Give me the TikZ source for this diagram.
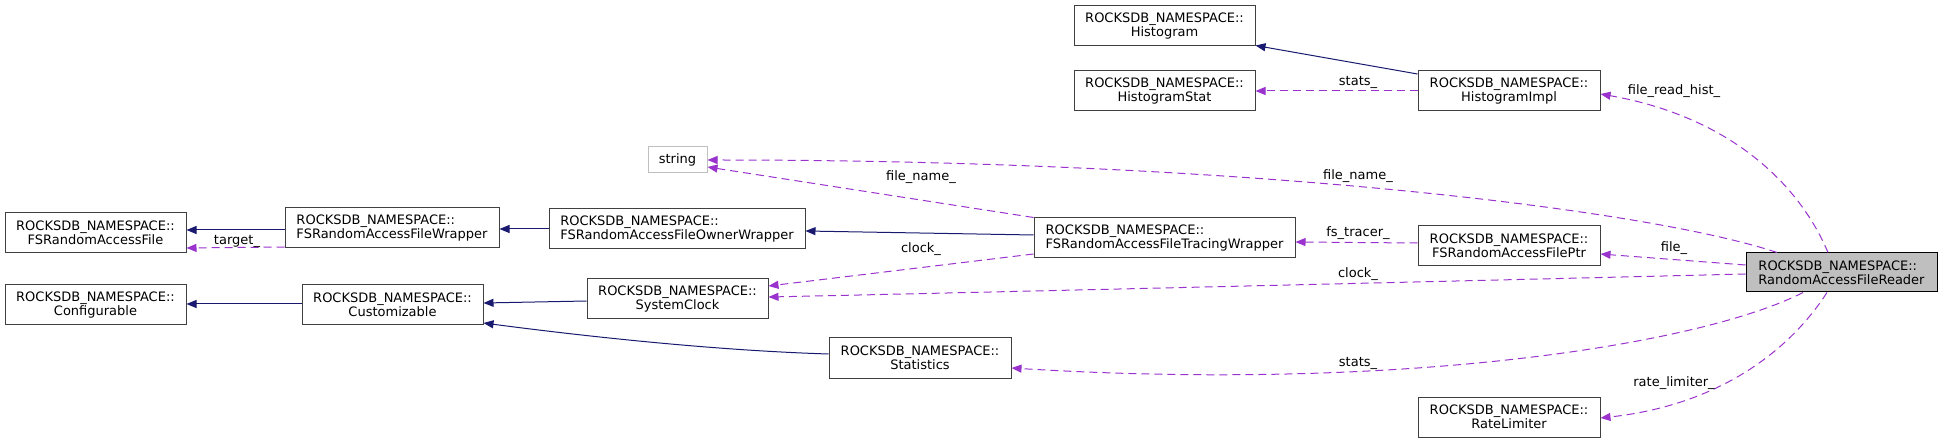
\documentclass[tikz,border=0pt]{standalone}
\usepackage{fontspec}
\setmainfont{DejaVu Sans}
\usetikzlibrary{arrows.meta,calc}
\definecolor{navyedge}{RGB}{25,25,112}
\definecolor{purpedge}{RGB}{154,50,205}
\definecolor{boxline}{RGB}{64,64,64}
\definecolor{strline}{RGB}{191,191,191}
\definecolor{readerfill}{RGB}{191,191,191}
\tikzset{
  cls/.style={draw=boxline, line width=1pt, fill=white, minimum height=40pt, inner sep=0pt,
    font=\fontsize{13}{14}\selectfont, align=center},
  clsl/.style={cls, align=left},
  lbl/.style={font=\fontsize{13}{14}\selectfont, inner sep=0pt},
  inh/.style={draw=navyedge, line width=1pt, -{Triangle[length=10pt,width=8pt]}, navyedge},
  use/.style={draw=purpedge, line width=1pt, dash pattern=on 8pt off 5pt,
    -{Triangle[length=10pt,width=8pt]}, purpedge},
}
\begin{document}
\begin{tikzpicture}[x=1pt,y=-1pt]
\useasboundingbox (0,0) rectangle (1943,443);
% nodes
\node[cls, minimum width=181pt] (File) at (95.5,232.5) {ROCKSDB\_NAMESPACE::\\FSRandomAccessFile};
\node[clsl, minimum width=214pt] (Wrapper) at (392,228) {ROCKSDB\_NAMESPACE::\\FSRandomAccessFileWrapper};
\node[clsl, minimum width=256pt] (Owner) at (677,229) {ROCKSDB\_NAMESPACE::\\FSRandomAccessFileOwnerWrapper};
\node[clsl, minimum width=261pt] (Tracing) at (1164.5,238) {ROCKSDB\_NAMESPACE::\\FSRandomAccessFileTracingWrapper};
\node[cls, draw=strline, minimum width=59pt, minimum height=26pt] (string) at (677.5,160) {string};
\node[cls, minimum width=181pt] (Config) at (95.5,305) {ROCKSDB\_NAMESPACE::\\Configurable};
\node[cls, minimum width=181pt] (Custom) at (392.5,305) {ROCKSDB\_NAMESPACE::\\Customizable};
\node[cls, minimum width=181pt] (Clock) at (677.5,299) {ROCKSDB\_NAMESPACE::\\SystemClock};
\node[cls, minimum width=182pt] (Stats) at (920,358) {ROCKSDB\_NAMESPACE::\\Statistics};
\node[cls, minimum width=181pt] (Hist) at (1164.5,26) {ROCKSDB\_NAMESPACE::\\Histogram};
\node[cls, minimum width=181pt] (HStat) at (1164.5,91) {ROCKSDB\_NAMESPACE::\\HistogramStat};
\node[cls, minimum width=182pt] (HImpl) at (1509,91) {ROCKSDB\_NAMESPACE::\\HistogramImpl};
\node[cls, minimum width=182pt] (FilePtr) at (1509,246) {ROCKSDB\_NAMESPACE::\\FSRandomAccessFilePtr};
\node[cls, minimum width=182pt] (RateL) at (1509,417) {ROCKSDB\_NAMESPACE::\\RateLimiter};
\node[clsl, draw=black, fill=readerfill, minimum width=191pt, minimum height=39pt] (Reader) at (1841.5,272.5) {ROCKSDB\_NAMESPACE::\\RandomAccessFileReader};
% inheritance edges
\draw[inh] ($(Wrapper.west)+(0,2)$) -- ($(File.east)+(0,-2.5)$);
\draw[inh] ($(Owner.west)+(0,0)$) -- ($(Wrapper.east)+(0,1)$);
\draw[inh] ($(Tracing.west)+(0,-3)$) -- ($(Owner.east)+(0,2)$);
\draw[inh] ($(Custom.west)+(0,-1)$) -- ($(Config.east)+(0,-1)$);
\draw[inh] ($(Clock.west)+(0,2)$) -- ($(Custom.east)+(0,-2)$);
\draw[inh] ($(Stats.west)+(0,-4)$) .. controls (700,350) and (560,333) .. ($(Custom.east)+(0,18)$);
\draw[inh] ($(HImpl.west)+(0,-17)$) -- ($(Hist.south east)+(0,-1)$);
% usage edges
\draw[use] ($(Wrapper.west)+(0,19)$) -- ($(File.east)+(0,15.5)$);
\draw[use] (Tracing.north west) -- ($(string.east)+(0,7)$);
\draw[use] ($(Tracing.west)+(0,16)$) -- ($(Clock.east)+(0,-13)$);
\draw[use] (HImpl.west) -- (HStat.east);
\draw[use] ($(Reader.north)+(-13.5,0)$) .. controls (1795,175) and (1720,115) .. ($(HImpl.east)+(0,3)$);
\draw[use] ($(Reader.north)+(-64.5,0)$) .. controls (1650,210) and (1250,160) .. (string.east);
\draw[use] ($(Reader.west)+(0,-7.5)$) -- ($(FilePtr.east)+(0,8)$);
\draw[use] ($(FilePtr.west)+(0,-3)$) -- ($(Tracing.east)+(0,4)$);
\draw[use] ($(Reader.west)+(0,1.5)$) .. controls (1500,280) and (1000,292) .. ($(Clock.east)+(0,-2)$);
\draw[use] ($(Reader.south)+(-38.5,0)$) .. controls (1700,345) and (1400,392) .. ($(Stats.east)+(0,10)$);
\draw[use] ($(Reader.south)+(-14.5,0)$) .. controls (1790,350) and (1720,405) .. ($(RateL.east)+(0,1)$);
% labels
\node[lbl] (l1) at (237,241) {target\_};
\node[lbl] (l2) at (921,177) {file\_name\_};
\node[lbl] (l3) at (921,249) {clock\_};
\node[lbl] (l4) at (1358,82) {stats\_};
\node[lbl] (l5) at (1358,176) {file\_name\_};
\node[lbl] (l6) at (1674,91) {file\_read\_hist\_};
\node[lbl] (l7) at (1358,233) {fs\_tracer\_};
\node[lbl] (l8) at (1674,248) {file\_};
\node[lbl] (l9) at (1358,274) {clock\_};
\node[lbl] (l10) at (1358,363) {stats\_};
\node[lbl] (l11) at (1674,383) {rate\_limiter\_};
\end{tikzpicture}
\end{document}
